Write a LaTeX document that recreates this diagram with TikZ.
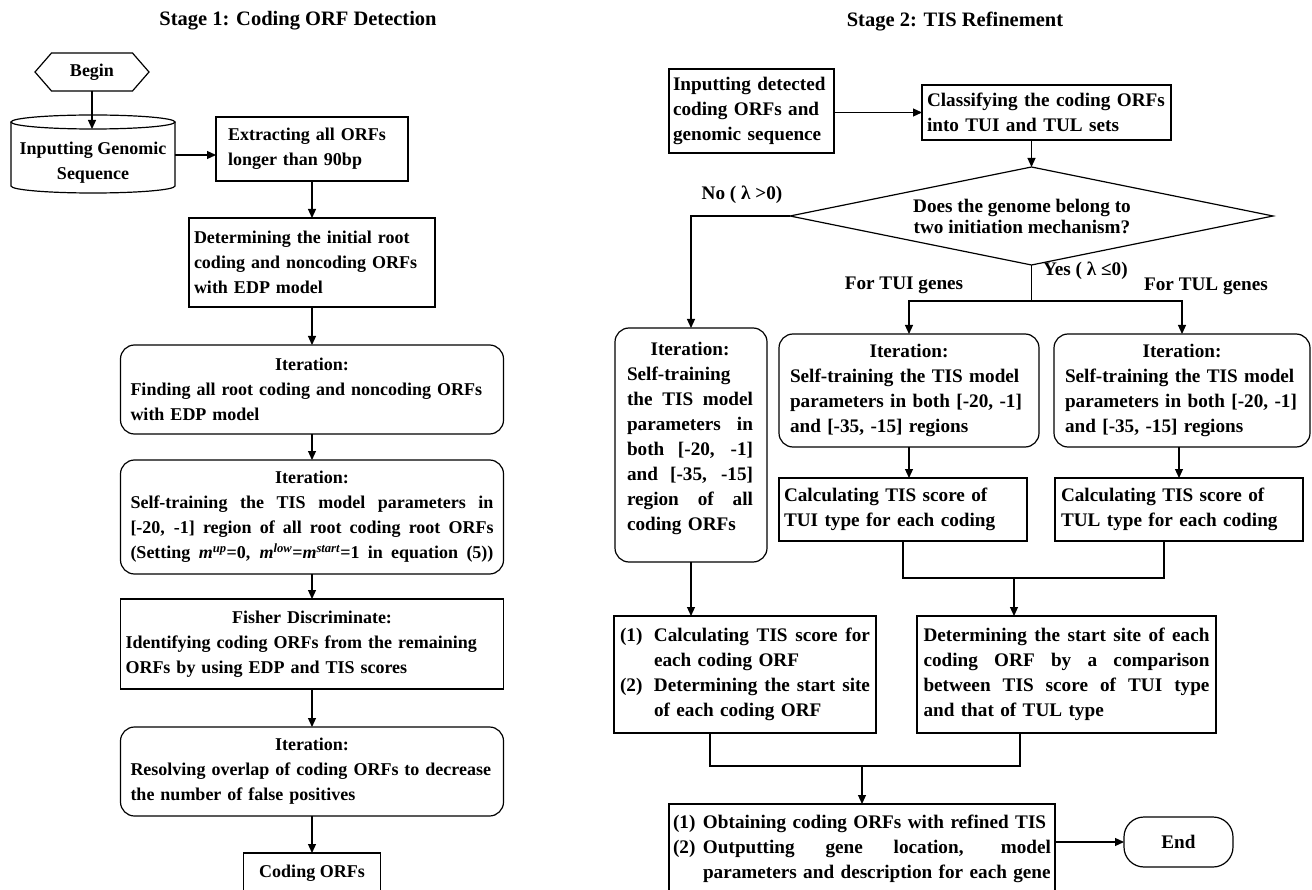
\documentclass[tikz,border=0pt]{standalone}
\usepackage{fontspec}
\setmainfont{Liberation Serif}
\usetikzlibrary{arrows.meta,shapes.geometric,shapes.symbols}
\newcommand{\jl}[2]{\leavevmode\hbox to #1{\spaceskip=.25em plus 1fil\relax #2}}
\newcommand{\nb}[1]{\mbox{#1}}
\begin{document}
\begin{tikzpicture}[x=1pt,y=-1pt,
  font=\fontsize{19.2}{25}\selectfont\bfseries,
  lfont/.style={font=\fontsize{18}{25}\selectfont\bfseries},
  box/.style={draw, line width=1.2pt, inner sep=0pt, outer sep=0pt},
  rbox/.style={box, rounded corners=14pt},
  arr/.style={line width=1.2pt, -{Triangle[length=9pt,width=8pt]}},
  ln/.style={line width=1.2pt},
  lbl/.style={inner sep=0pt},
  title/.style={inner sep=0pt, font=\fontsize{20.5}{25}\selectfont\bfseries}]
\useasboundingbox (0,0) rectangle (1312,890);
\clip (0,0) rectangle (1312,890);

% titles
\node[title] (t1) at (298,21) {Stage 1: Coding ORF Detection};
\node[title] (t2) at (955,22) {Stage 2: TIS Refinement};

% ---------- Stage 1 ----------
\node[box, lfont, signal, signal to=east and west, signal pointer angle=98, minimum width=114, minimum height=38] (begin) at (92,72) {Begin};
\draw[ln] (11,122) -- (11,186) arc[start angle=180, end angle=0, x radius=82, y radius=7] -- (175,122);
\draw[ln] (93,122) ellipse [x radius=82, y radius=7];
\node[lbl, lfont, minimum width=164, minimum height=64, align=center] (cyl) at (93,163) {Inputting Genomic\\Sequence};
\coordinate (cyltop) at (92,129);
\coordinate (cylr) at (175,155);

\node[box, lfont, minimum width=192, minimum height=64, text width=168, align=left] (ext) at (312,149) {\nb{Extracting all ORFs}\\\nb{longer than 90bp}};
\node[box, lfont, minimum width=246, minimum height=89, text width=236, align=left] (det) at (312,262.5) {\nb{Determining the initial root}\\\nb{coding and noncoding ORFs}\\\nb{with EDP model}};
\node[rbox, lfont, minimum width=383, minimum height=89, text width=363, align=left] (it1) at (312,389.5) {\makebox[363pt]{Iteration:}\\\nb{Finding all root coding and noncoding ORFs}\\\nb{with EDP model}};
\node[rbox, lfont, minimum width=383, minimum height=114, text width=363, align=left] (it2) at (312,517) {\makebox[363pt]{Iteration:}\\\jl{363pt}{Self-training the TIS model parameters in}\\\jl{363pt}{[-20, -1] region of all root coding root ORFs}\\\jl{363pt}{(Setting \textit{m}\textsuperscript{\textit{up}}=0, \textit{m}\textsuperscript{\textit{low}}=\textit{m}\textsuperscript{\textit{start}}=1 in equation (5))}};
\node[box, lfont, minimum width=383, minimum height=90, text width=373, align=left] (fish) at (312,644) {\makebox[373pt]{Fisher Discriminate:}\\\nb{Identifying coding ORFs from the remaining}\\\nb{ORFs by using EDP and TIS scores}};
\node[rbox, lfont, minimum width=383, minimum height=89, text width=363, align=left] (it3) at (312,771.5) {\makebox[363pt]{Iteration:}\\\nb{Resolving overlap of coding ORFs to decrease}\\\nb{the number of false positives}};
\node[box, lfont, minimum width=137, minimum height=40] (cod) at (312,873) {Coding ORFs};

\draw[arr] (begin.south) -- (cyltop);
\draw[arr] (cylr) -- (cylr -| ext.west);
\draw[arr] (ext.south) -- (det.north);
\draw[arr] (det.south) -- (it1.north);
\draw[arr] (it1.south) -- (it2.north);
\draw[arr] (it2.south) -- (fish.north);
\draw[arr] (fish.south) -- (it3.north);
\draw[arr] (it3.south) -- (cod.north);

% ---------- Stage 2 ----------
\node[box, minimum width=165, minimum height=84, text width=157, align=left] (inp2) at (751.5,111) {\nb{Inputting detected}\\\nb{coding ORFs and}\\\nb{genomic sequence}};
\node[box, minimum width=249, minimum height=55, text width=239, align=left] (cls) at (1046.5,112.5) {\nb{Classifying the coding ORFs}\\\nb{into TUI and TUL sets}};
\node[box, diamond, minimum width=483, minimum height=98] (dia) at (1031.5,216) {};
\node[lbl, align=center, font=\fontsize{19.2}{21}\selectfont\bfseries] (dtxt) at (1022,216) {Does the genome belong to\\two initiation mechanism?};
\node[lbl] (no) at (742,195) {No ( λ >0)};
\node[lbl, anchor=west] (yes) at (1043,271) {Yes ( λ ≤0)};
\node[lbl] (ftui) at (904,285) {For TUI genes};
\node[lbl] (ftul) at (1206,286) {For TUL genes};

\node[rbox, minimum width=152, minimum height=234] (itL) at (691,445) {};
\node[lbl, text width=126, align=left] (itLt) at (690,438) {\makebox[126pt]{Iteration:}\\\nb{Self-training}\\\jl{126pt}{the TIS model}\\\jl{126pt}{parameters in}\\\jl{126pt}{both [-20, -1]}\\\jl{126pt}{and [-35, -15]}\\\jl{126pt}{region of all}\\\nb{coding ORFs}};
\node[rbox, minimum width=260, minimum height=113, text width=238, align=left] (itM) at (909,390.5) {\makebox[238pt]{Iteration:}\\\nb{Self-training the TIS model}\\\nb{parameters in both [-20, -1]}\\\nb{and [-35, -15] regions}};
\node[rbox, minimum width=256, minimum height=113, text width=234, align=left] (itR) at (1182,390.5) {\makebox[234pt]{Iteration:}\\\nb{Self-training the TIS model}\\\nb{parameters in both [-20, -1]}\\\nb{and [-35, -15] regions}};
\node[box, minimum width=248, minimum height=63, text width=238, align=left] (calcM) at (903,509.5) {\nb{Calculating TIS score of}\\\nb{TUI type for each coding}};
\node[box, minimum width=248, minimum height=63, text width=236, align=left] (calcR) at (1179,509.5) {\nb{Calculating TIS score of}\\\nb{TUL type for each coding}};
\node[box, minimum width=262, minimum height=117, text width=250, align=left] (calcL) at (745,674.5) {\makebox[34pt][l]{(1)}\jl{216pt}{Calculating TIS score for}\\\hspace*{34pt}\nb{each coding ORF}\\\makebox[34pt][l]{(2)}\jl{216pt}{Determining the start site}\\\hspace*{34pt}\nb{of each coding ORF}};
\node[box, minimum width=299, minimum height=117, text width=286, align=left] (detR) at (1066.5,674.5) {\jl{286pt}{Determining the start site of each}\\\jl{286pt}{coding ORF by a comparison}\\\jl{286pt}{between TIS score of TUI type}\\\nb{and that of TUL type}};
\node[box, minimum width=386, minimum height=89, text width=378, align=left] (fin) at (862,848.5) {\makebox[30pt][l]{(1)}\nb{Obtaining coding ORFs with refined TIS}\\\makebox[30pt][l]{(2)}\jl{348pt}{Outputting gene location, model}\\\hspace*{30pt}\nb{parameters and description for each gene}};
\node[box, rounded corners=20pt, minimum width=109, minimum height=50] (endn) at (1178.5,842) {End};

\draw[arr] (inp2.east |- cls.west) -- (cls.west);
\draw[arr] (cls.south -| dia.north) -- (dia.north);
\draw[arr] (dia.west) -| (itL.north);
\coordinate (yj) at (1031.5,301);
\draw[ln] (dia.south) -- (yj);
\draw[arr] (yj) -| (itM.north);
\draw[arr] (yj) -| (itR.north);
\draw[arr] (itM.south) -- (itM.south |- calcM.north);
\draw[arr] (itR.south -| calcR.north) -- (calcR.north);
\draw[arr] (itL.south) -- (itL.south |- calcL.north);

\coordinate (m1a) at (903,578);
\coordinate (m1b) at (1164,578);
\coordinate (m1) at (1014,578);
\draw[ln] (m1a |- calcM.south) -- (m1a) -- (m1b) -- (m1b |- calcR.south);
\draw[arr] (m1) -- (m1 |- detR.north);

\coordinate (m2a) at (710,766);
\coordinate (m2b) at (1020,766);
\coordinate (m2) at (862,766);
\draw[ln] (m2a |- calcL.south) -- (m2a) -- (m2b) -- (m2b |- detR.south);
\draw[arr] (m2) -- (m2 |- fin.north);

\draw[arr] (fin.east |- endn.west) -- (endn.west);
\end{tikzpicture}
\end{document}
